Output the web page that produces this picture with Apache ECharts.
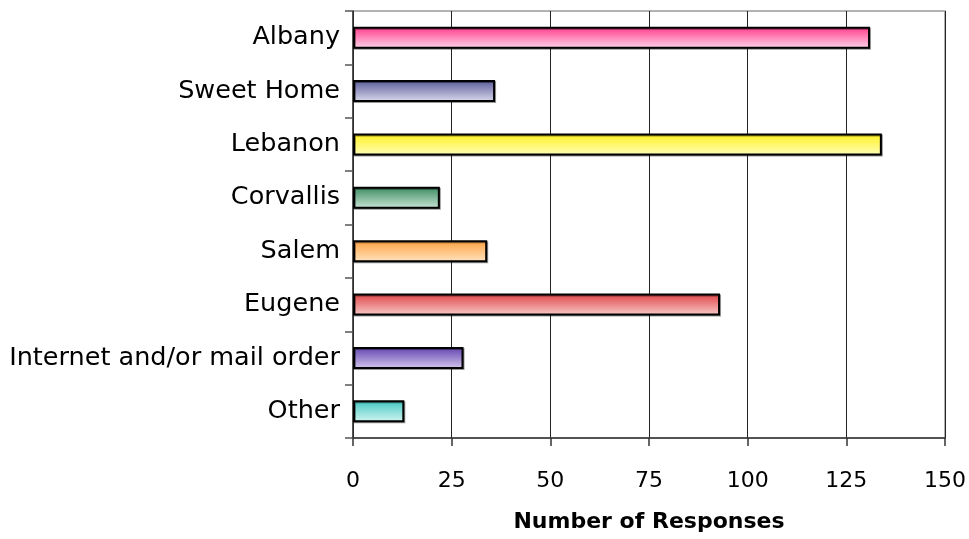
<!DOCTYPE html>
<html>
<head>
<meta charset="utf-8">
<title>Number of Responses</title>
<script src="https://cdn.jsdelivr.net/npm/echarts@6/dist/echarts.min.js"></script>
<style>
  html, body { margin: 0; padding: 0; background: #fff; }
  #chart { width: 969px; height: 539px; }
</style>
</head>
<body>
<div id="chart"></div>
<script>
// Where respondents shop
const categories = ['Albany', 'Sweet Home', 'Lebanon', 'Corvallis', 'Salem', 'Eugene', 'Internet and/or mail order', 'Other'];
const responses = [131, 36, 134, 22, 34, 93, 28, 13];
// Gradient stops per bar: [top, bottom]
const barTopColors = ['#ff3a8b', '#585899', '#fff01e', '#388a5e', '#ffa040', '#df4244', '#6042ad', '#42c7c0'];
const barBottomColors = ['#ffd6ea', '#dcdcee', '#ffffb8', '#cde6d8', '#ffe4c0', '#f8cccc', '#d4c8ee', '#d4f5f2'];
const xTicks = [0, 25, 50, 75, 100, 125, 150];

const FONT = '"DejaVu Sans", sans-serif';

const chart = echarts.init(document.getElementById('chart'), null, { renderer: 'canvas' });

const barData = responses.map((v, i) => ({
  value: v,
  itemStyle: {
    color: new echarts.graphic.LinearGradient(0, 0, 0, 1, [
      { offset: 0, color: barTopColors[i] },
      { offset: 1, color: barBottomColors[i] }
    ])
  }
}));

chart.setOption({
  animation: false,
  backgroundColor: '#ffffff',
  grid: {
    left: 353, right: 23, top: 11, bottom: 101,
    show: true, borderColor: '#999', borderWidth: 1.5, backgroundColor: 'transparent'
  },
  xAxis: {
    type: 'value',
    min: xTicks[0],
    max: xTicks[xTicks.length - 1],
    interval: 25,
    name: 'Number of Responses',
    nameLocation: 'middle',
    nameGap: 73,
    nameTextStyle: { fontFamily: FONT, fontSize: 22, fontWeight: 'bold', color: '#000' },
    axisLine: { show: true, lineStyle: { color: '#333', width: 1.5 } },
    axisTick: { show: true, inside: false, length: 8, lineStyle: { color: '#333', width: 1.5 } },
    axisLabel: { fontFamily: FONT, fontSize: 22, color: '#000', margin: 32 },
    splitLine: { show: true, lineStyle: { color: '#222', width: 1 } }
  },
  yAxis: {
    type: 'category',
    data: categories,
    inverse: true,
    axisLine: { show: true, lineStyle: { color: '#333', width: 1.5 } },
    axisTick: { show: true, inside: false, length: 8, lineStyle: { color: '#555', width: 1.5 } },
    axisLabel: { fontFamily: FONT, fontSize: 25.5, color: '#000', margin: 13 },
    splitLine: { show: false }
  },
  series: [{
    type: 'bar',
    data: barData,
    barWidth: 22,
    itemStyle: {
      borderColor: '#000',
      borderWidth: 2,
      shadowColor: 'rgba(0,0,0,0.4)',
      shadowOffsetX: 1,
      shadowOffsetY: 1,
      shadowBlur: 0
    }
  }]
});
</script>
</body>
</html>
